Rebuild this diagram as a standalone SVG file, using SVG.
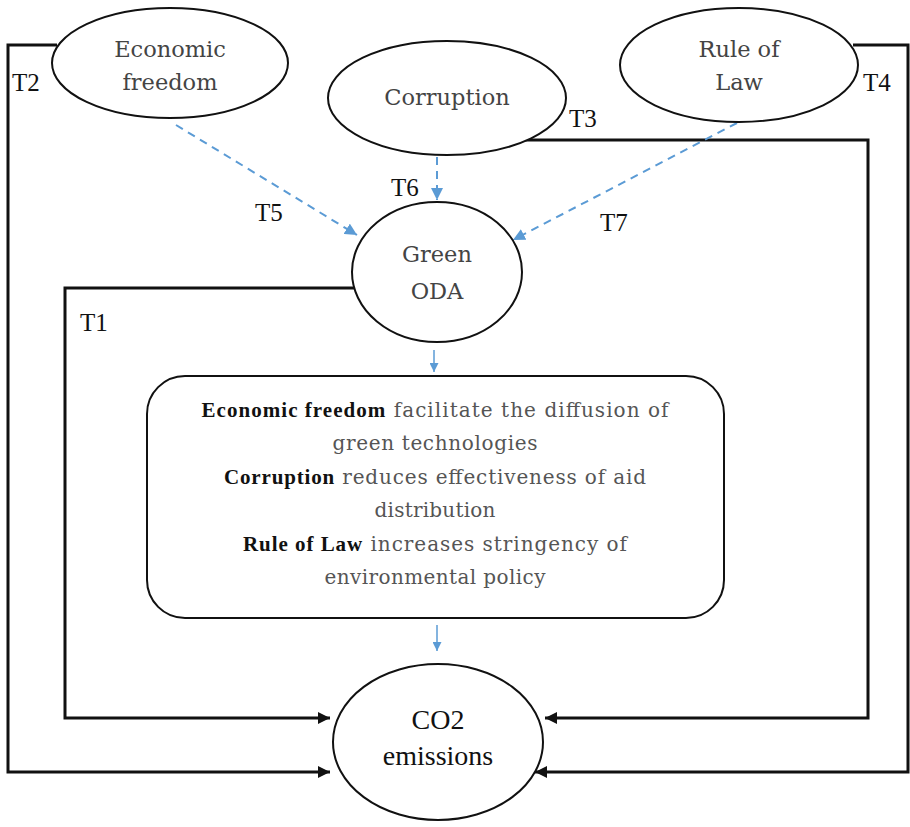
<svg xmlns="http://www.w3.org/2000/svg" width="910" height="827" viewBox="0 0 910 827">
<style>
.node{fill:#fff;stroke:#111;stroke-width:2}
.lbl{font-family:"DejaVu Serif","Liberation Serif",serif;font-size:22.5px;fill:#444;text-anchor:middle}
.co2{font-family:"Liberation Serif",serif;font-size:28px;fill:#111;text-anchor:middle}
.box{font-family:"DejaVu Serif","Liberation Serif",serif;font-size:20px;fill:#555;text-anchor:middle}
.box tspan.b{fill:#111;font-family:"Liberation Serif",serif;font-size:21px;font-weight:bold}
.t{font-family:"Liberation Serif",serif;font-size:25px;fill:#111}
.solid{fill:none;stroke:#111;stroke-width:3}
.dash{fill:none;stroke:#5b9bd5;stroke-width:2;stroke-dasharray:8,6}
.thin{fill:none;stroke:#5b9bd5;stroke-width:1.5}
</style>
<defs>
<marker id="ab" viewBox="0 0 10 10" refX="10" refY="5" markerWidth="4" markerHeight="4" orient="auto" markerUnits="strokeWidth"><path d="M0,0L10,5L0,10z" fill="#111"/></marker>
<marker id="bl" viewBox="0 0 10 10" refX="10" refY="5" markerWidth="6" markerHeight="6" orient="auto" markerUnits="strokeWidth"><path d="M0,0L10,5L0,10z" fill="#5b9bd5"/></marker>
</defs>
<rect width="910" height="827" fill="#fff"/>
<g id="connectors">
<path class="solid" d="M57,45H8V772H330" marker-end="url(#ab)"/>
<path class="solid" d="M357,288H65V718H330" marker-end="url(#ab)"/>
<path class="solid" d="M525,140H868V718H545" marker-end="url(#ab)"/>
<path class="solid" d="M853,45H908V772H535" marker-end="url(#ab)"/>
<path class="dash" d="M176,125L357,235" marker-end="url(#bl)"/>
<path class="dash" d="M437,157V200" marker-end="url(#bl)"/>
<path class="dash" d="M737,123L513,240" marker-end="url(#bl)"/>
<path class="thin" d="M434,350V372" marker-end="url(#bl)"/>
<path class="thin" d="M437,625V651" marker-end="url(#bl)"/>
<text class="t" x="12" y="91">T2</text>
<text class="t" x="863" y="91">T4</text>
<text class="t" x="569" y="127">T3</text>
<text class="t" x="391" y="196">T6</text>
<text class="t" x="255" y="221">T5</text>
<text class="t" x="600" y="231">T7</text>
<text class="t" x="80" y="331">T1</text>
</g>
<g id="economic-freedom">
<ellipse class="node" cx="170" cy="63" rx="118" ry="55"/>
<text class="lbl" x="170" y="57">Economic</text>
<text class="lbl" x="170" y="90">freedom</text>
</g>
<g id="corruption">
<ellipse class="node" cx="447" cy="98" rx="119" ry="57"/>
<text class="lbl" x="447" y="105">Corruption</text>
</g>
<g id="rule-of-law">
<ellipse class="node" cx="739" cy="65" rx="119" ry="57"/>
<text class="lbl" x="739" y="57">Rule of</text>
<text class="lbl" x="739" y="90">Law</text>
</g>
<g id="green-oda">
<ellipse class="node" cx="437" cy="272" rx="85" ry="70"/>
<text class="lbl" x="437" y="262">Green</text>
<text class="lbl" x="437" y="299">ODA</text>
</g>
<g id="mechanisms">
<rect class="node" x="147" y="376" width="577" height="242" rx="38"/>
<text class="box" x="435" y="417" textLength="467" lengthAdjust="spacing"><tspan class="b">Economic freedom</tspan> facilitate the diffusion of</text>
<text class="box" x="435" y="450" textLength="205" lengthAdjust="spacing">green technologies</text>
<text class="box" x="435" y="484" textLength="422" lengthAdjust="spacing"><tspan class="b">Corruption</tspan> reduces effectiveness of aid</text>
<text class="box" x="435" y="517" textLength="121" lengthAdjust="spacing">distribution</text>
<text class="box" x="435" y="551" textLength="384" lengthAdjust="spacing"><tspan class="b">Rule of Law</tspan> increases stringency of</text>
<text class="box" x="435" y="584" textLength="221" lengthAdjust="spacing">environmental policy</text>
</g>
<g id="co2-emissions">
<ellipse class="node" cx="438" cy="742" rx="105" ry="78"/>
<text class="co2" x="438" y="729">CO2</text>
<text class="co2" x="438" y="765">emissions</text>
</g>
</svg>
